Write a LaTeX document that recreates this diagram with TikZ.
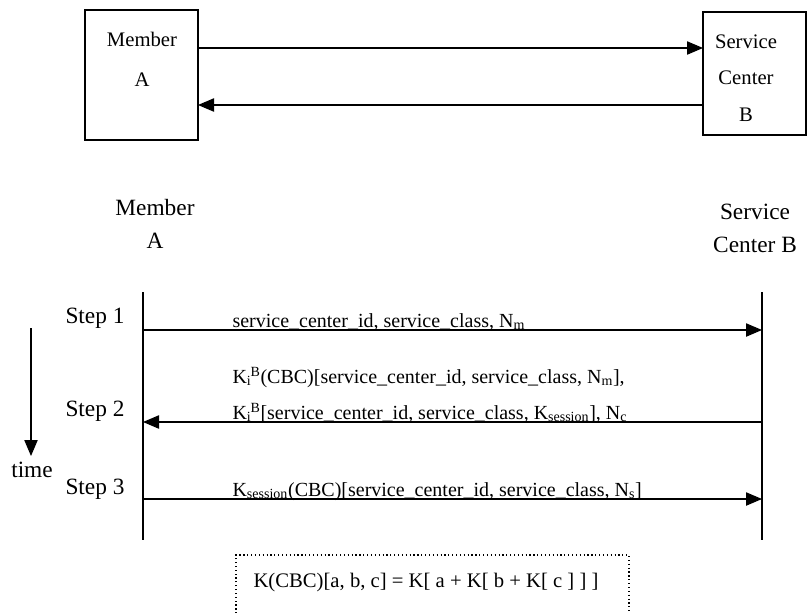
\documentclass[tikz,border=0pt]{standalone}
\usepackage{fontspec}
\setmainfont{Liberation Serif}
\usetikzlibrary{arrows.meta}
\newcommand{\KiB}{K\textsubscript{i}\kern-0.05em\textsuperscript{B}}
\begin{document}
\begin{tikzpicture}[x=0.75pt,y=-0.75pt,
  line width=0.8pt,
  arr/.style={-{Triangle[length=12pt,width=10pt]}},
  boxtxt/.style={font=\fontsize{15.5}{17}\selectfont},
  lbl/.style={font=\fontsize{17.5}{20}\selectfont},
  msg/.style={font=\fontsize{15}{17}\selectfont,anchor=base west,inner sep=0pt},
  life/.style={line width=0.8pt}]
\useasboundingbox (0,0) rectangle (807,612);
% top boxes
\draw[line width=0.9pt] (85,10) rectangle (198,140);
\coordinate (Ar1) at (198,48);
\coordinate (Ar2) at (198,105);
\node[boxtxt] (amem) at (142,39) {Member};
\node[boxtxt] (aa) at (142,80) {A};
\draw[line width=0.9pt] (806,12) -- (703,12) -- (703,135) -- (806,135) -- cycle;
\coordinate (Bl1) at (703,48);
\coordinate (Bl2) at (703,105);
\node[boxtxt] (bs) at (746,42) {Service};
\node[boxtxt] (bc) at (746,78) {Center};
\node[boxtxt] (bb) at (746,115) {B};
\draw[arr] (Ar1) -- (Bl1);
\draw[arr] (Bl2) -- (Ar2);
% lifeline labels
\node[lbl] (lm) at (155,208) {Member};
\node[lbl] (la) at (155,241) {A};
\node[lbl] (ls) at (755,212) {Service};
\node[lbl] (lc) at (755,245) {Center B};
% lifelines
\coordinate (At) at (143,292); \coordinate (Ab) at (143,540);
\coordinate (Bt) at (762,292); \coordinate (Bb) at (762,540);
\draw[life] (At) -- (Ab);
\draw[life] (Bt) -- (Bb);
\coordinate (A1) at (143,330); \coordinate (B1) at (762,330);
\coordinate (A2) at (143,422); \coordinate (B2) at (762,422);
\coordinate (A3) at (143,499); \coordinate (B3) at (762,499);
\draw[arr] (A1) -- (B1);
\draw[arr] (B2) -- (A2);
\draw[arr] (A3) -- (B3);
% step labels
\node[lbl] (s1) at (95,318) {Step 1};
\node[lbl] (s2) at (95,411) {Step 2};
\node[lbl] (s3) at (95,489) {Step 3};
% time arrow
\coordinate (t0) at (31,328); \coordinate (t1) at (31,456);
\draw[arr] (t0) -- (t1);
\node[lbl] (time) at (32,470) {time};
% messages
\node[msg] (m1) at (232,327) {service\_center\_id, service\_class, N\textsubscript{m}};
\node[msg] (m2a) at (232,383) {\KiB(CBC)[service\_center\_id, service\_class, N\textsubscript{m}],};
\node[msg] (m2b) at (232,419) {\KiB[service\_center\_id, service\_class, K\textsubscript{session}], N\textsubscript{c}};
\node[msg] (m3) at (232,496) {K\textsubscript{session}(CBC)[service\_center\_id, service\_class, N\textsubscript{s}]};
% formula box
\draw[dotted,line width=0.9pt] (236,625) -- (236,555) -- (629,555) -- (629,625);
\node[font=\fontsize{15.5}{18}\selectfont] (f) at (426,583) {K(CBC)[a, b, c] = K[ a + K[ b + K[ c ] ] ]};
\end{tikzpicture}
\end{document}
